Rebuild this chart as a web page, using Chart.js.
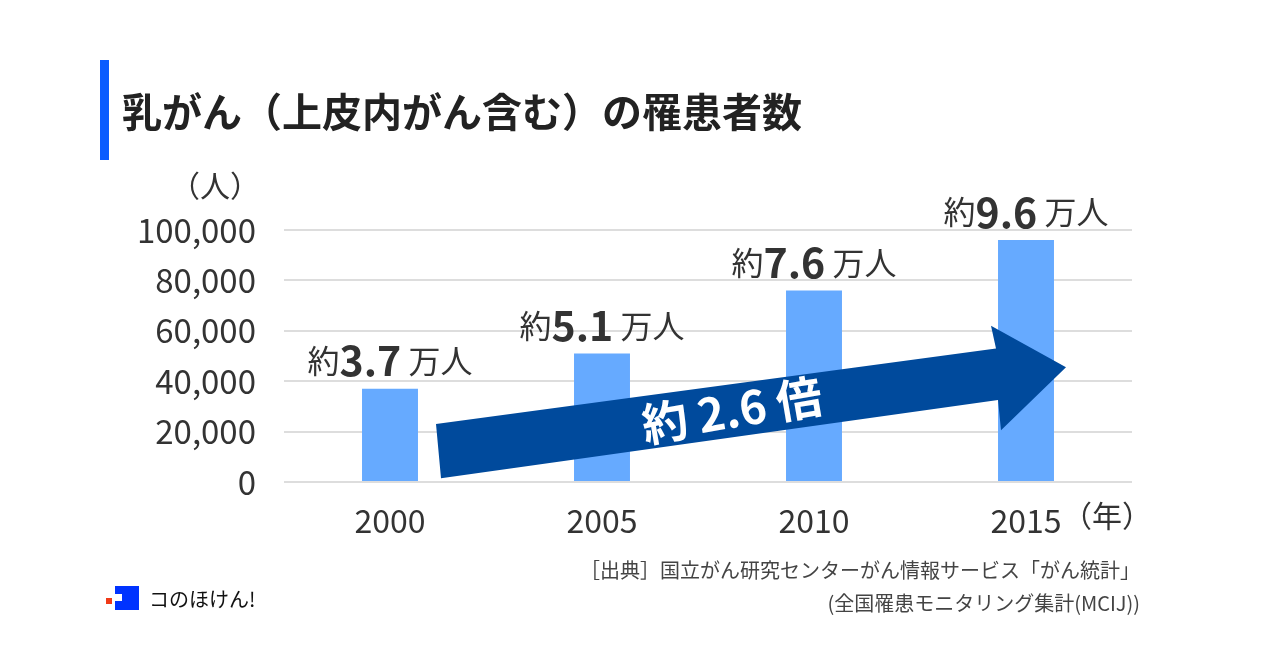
<!DOCTYPE html>
<html><head><meta charset="utf-8">
<script src="https://cdn.jsdelivr.net/npm/chart.js@4/dist/chart.umd.min.js"></script>
<style>body{margin:0;background:#fff}canvas{display:block}</style>
</head><body>
<canvas id="c" width="1280" height="671"></canvas>
<script>
const years = ["2000", "2005", "2010", "2015"];
const patients = [37000, 51000, 76000, 96000];
const labelNums = ["3.7", "5.1", "7.6", "9.6"];
const yTicks = [0, 20000, 40000, 60000, 80000, 100000];

const FONT = '"Noto Sans CJK JP", "Noto Sans", sans-serif';

// タイトル・注記・矢印などの装飾
const deco = {
  id: "deco",
  afterDatasetsDraw(chart) {
    const ctx = chart.ctx, x = chart.scales.x, y = chart.scales.y;
    ctx.save();
    // タイトル
    ctx.fillStyle = "#0a5cff";
    ctx.fillRect(100, 60, 9, 100);
    ctx.fillStyle = "#222";
    ctx.font = "bold 40px " + FONT;
    ctx.textBaseline = "middle";
    ctx.textAlign = "left";
    ctx.fillText("乳がん（上皮内がん含む）の罹患者数", 122, 112);
    // 単位
    ctx.font = "30px " + FONT;
    ctx.fillStyle = "#333";
    ctx.fillText("（人）", 170, 186);
    ctx.fillText("（年）", x.getPixelForValue(3) + 36, 516);

    // 矢印
    const x0 = x.getPixelForValue(0), x3 = x.getPixelForValue(3);
    const t1 = [x0 + 46, y.getPixelForValue(23000)], t2 = [x0 + 51, y.getPixelForValue(1500)];
    const tip = [x3 + 40, y.getPixelForValue(45500)];
    const h1 = [x3 - 35, y.getPixelForValue(62000)], h2 = [x3 - 25, y.getPixelForValue(20500)];
    const s1 = [x3 - 30, y.getPixelForValue(53000)], s2 = [x3 - 28, y.getPixelForValue(32500)];
    ctx.fillStyle = "#004a9c";
    ctx.beginPath();
    ctx.moveTo(...t1); ctx.lineTo(...s1); ctx.lineTo(...h1); ctx.lineTo(...tip);
    ctx.lineTo(...h2); ctx.lineTo(...s2); ctx.lineTo(...t2); ctx.closePath(); ctx.fill();
    ctx.save();
    ctx.translate((x0 + x3) / 2 + 24, y.getPixelForValue(28500));
    ctx.rotate(-0.17);
    ctx.fillStyle = "#fff";
    ctx.textAlign = "center";
    ctx.font = "bold 46px " + FONT;
    ctx.fillText("約 2.6 倍", 0, 0);
    ctx.restore();

    // 値ラベル
    chart.getDatasetMeta(0).data.forEach((bar, i) => {
      const parts = [["約", "32px"], [labelNums[i], "bold 41px"], [" 万人", "32px"]];
      let w = 0;
      parts.forEach(p => { ctx.font = p[1] + " " + FONT; w += ctx.measureText(p[0]).width; });
      let cx = bar.x - w / 2;
      ctx.textAlign = "left";
      ctx.fillStyle = "#333";
      parts.forEach(p => {
        ctx.font = p[1] + " " + FONT;
        ctx.fillText(p[0], cx, bar.y - 28);
        cx += ctx.measureText(p[0]).width;
      });
    });

    // 出典
    ctx.font = "20px " + FONT;
    ctx.fillStyle = "#444";
    ctx.textAlign = "right";
    ctx.fillText("［出典］国立がん研究センターがん情報サービス「がん統計」", 1140, 570);
    ctx.fillText("(全国罹患モニタリング集計(MCIJ))", 1140, 603);

    // ロゴ
    ctx.fillStyle = "#f03a17";
    ctx.fillRect(106, 598, 6, 6);
    ctx.fillStyle = "#0033ff";
    ctx.fillRect(115, 586, 24, 24);
    ctx.fillStyle = "#fff";
    ctx.fillRect(115, 594, 7, 7);
    ctx.fillStyle = "#111";
    ctx.textAlign = "left";
    ctx.font = "20px " + FONT;
    ctx.fillText("コのほけん!", 149, 599);
    ctx.restore();
  }
};

new Chart(document.getElementById("c").getContext("2d"), {
  type: "bar",
  data: {
    labels: years,
    datasets: [{
      data: patients,
      backgroundColor: "#66aaff",
      categoryPercentage: 1,
      barPercentage: 0.264
    }]
  },
  options: {
    responsive: false,
    animation: false,
    layout: { padding: { top: 230, right: 148, bottom: 129, left: 0 } },
    plugins: { legend: { display: false }, tooltip: { enabled: false } },
    scales: {
      x: {
        grid: { display: false },
        border: { display: false },
        ticks: { color: "#333", font: { size: 32, family: FONT }, padding: 12 },
        afterFit(s) { s.height = 60; }
      },
      y: {
        min: 0, max: 100000,
        afterBuildTicks(s) { s.ticks = yTicks.map(v => ({ value: v })); },
        grid: { color: "#dddddd", lineWidth: 2, drawTicks: false },
        border: { display: false },
        ticks: {
          color: "#333", font: { size: 33, family: FONT }, padding: 28,
          callback: v => v.toLocaleString("en-US")
        },
        afterFit(s) { s.width = 284; }
      }
    }
  },
  plugins: [deco]
});
</script>
</body></html>
